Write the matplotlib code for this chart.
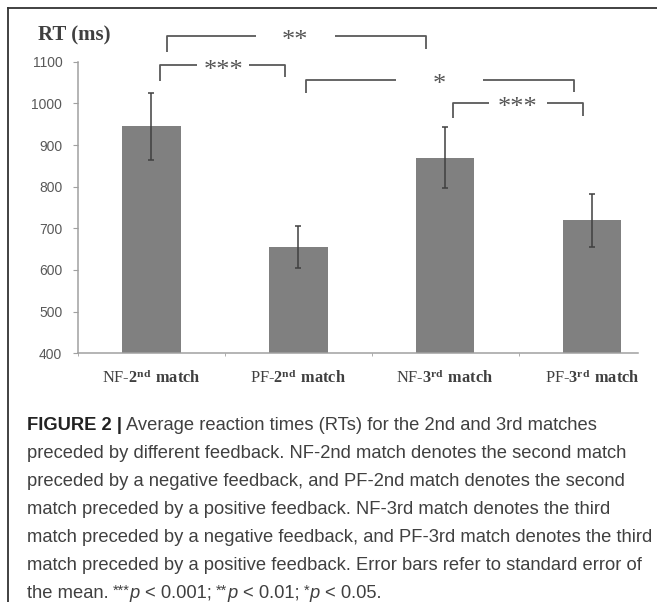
import numpy as np
import matplotlib
matplotlib.use("Agg")
from matplotlib import pyplot as plt

# data
conditions = ["NF-$\\mathbf{2^{nd}\\ match}$", "PF-$\\mathbf{2^{nd}\\ match}$",
              "NF-$\\mathbf{3^{rd}\\ match}$", "PF-$\\mathbf{3^{rd}\\ match}$"]
rt_mean = [945, 655, 870, 719]
rt_sem = [80, 51, 73, 64]
yticks = [400, 500, 600, 700, 800, 900, 1000, 1100]

# significance brackets: left bar pos, right bar pos, label
sig_pairs = [(0, 2, "**"), (0, 1, "***"), (1, 3, "*"), (2, 3, "***")]

caption_lines = [
    "Average reaction times (RTs) for the 2nd and 3rd matches",
    "preceded by different feedback. NF-2nd match denotes the second match",
    "preceded by a negative feedback, and PF-2nd match denotes the second",
    "match preceded by a positive feedback. NF-3rd match denotes the third",
    "match preceded by a negative feedback, and PF-3rd match denotes the third",
    "match preceded by a positive feedback. Error bars refer to standard error of",
]
# last line in pieces: (text, style)
last_line = [("the mean.", "n"), ("***", "s"), ("p", "i"), ("< 0.001;", "n"),
             ("**", "s"), ("p", "i"), ("< 0.01;", "n"),
             ("*", "s"), ("p", "i"), ("< 0.05.", "n")]

plt.rcParams['mathtext.fontset'] = 'custom'
plt.rcParams['mathtext.rm'] = 'Liberation Serif'
plt.rcParams['mathtext.bf'] = 'Liberation Serif:bold'

W, H = 657, 602
fig = plt.figure(figsize=(6.57, 6.02), dpi=100)

# background layer for frame + caption
bg = fig.add_axes([0, 0, 1, 1])
bg.set_xlim(0, W)
bg.set_ylim(H, 0)
bg.axis('off')
bg.plot([7.5, 7.5], [8, H], color='#333333', lw=1.3)
bg.plot([7.5, W], [8, 8], color='#333333', lw=1.3)

ax = fig.add_axes([77.7 / W, 1 - 353.3 / H, (638 - 77.7) / W, (353.3 - 61.7) / H])
x = np.arange(len(rt_mean))
ax.bar(x, rt_mean, width=0.4, color='#808080')
ax.errorbar(x, rt_mean, yerr=rt_sem, fmt='none', ecolor='#404040',
            elinewidth=1.1, capsize=2.5, capthick=1.1)

ax.set_xlim(-0.5, 3.313)
ax.set_ylim(400, 1100)
ax.set_yticks(yticks)
ax.set_yticklabels([str(v) for v in yticks], family='Liberation Sans',
                   fontsize=10, color='#595959')
ax.tick_params(axis='y', direction='out', length=3.6, color='#a0a0a0', pad=7.5)
ax.set_xticks(x)
ax.set_xticklabels(conditions, family='Liberation Serif', fontsize=11.8,
                   color='#404040')
ax.set_xticks([-0.5, 0.5, 1.5, 2.5], minor=True)
ax.tick_params(axis='x', which='major', length=0, pad=11)
ax.tick_params(axis='x', which='minor', direction='out', length=2.5,
               color='#a0a0a0')
for s in ['top', 'right']:
    ax.spines[s].set_visible(False)
for s in ['left', 'bottom']:
    ax.spines[s].set_color('#a0a0a0')
    ax.spines[s].set_linewidth(1.1)

# bracket geometry (data units)
brk_x = [(0.111, 1.871), (0.063, 0.912), (1.054, 2.878), (2.054, 2.937)]
brk_top = [1162, 1091, 1056, 1002]
brk_leg = [(1124, 1131), (1054, 1063), (1024, 1028), (966, 970)]
brk_gap = [(0.714, 1.249), (0.311, 0.668), (1.667, 2.259), (2.299, 2.694)]
for (i, j, lab), (xl, xr), top, (ll, lr), (g0, g1) in zip(
        sig_pairs, brk_x, brk_top, brk_leg, brk_gap):
    kw = dict(color='#595959', lw=1.3, clip_on=False, solid_capstyle='butt')
    ax.plot([xl, xl, g0], [ll, top, top], **kw)
    ax.plot([g1, xr, xr], [top, top, lr], **kw)
    ax.annotate(lab, xy=((g0 + g1) / 2, top), xytext=(0, -8),
                textcoords='offset points', ha='center', va='baseline',
                family='Liberation Serif', fontsize=19, color='#555555',
                annotation_clip=False)

fig.text(38 / W, 1 - 35 / H, "RT (ms)", family='Liberation Serif',
         weight='bold', fontsize=15, color='#404040', va='center', ha='left')

# caption
cfs = 13.2
ccol = '#404040'
cap_x = 27
cap_y = [430, 458, 486, 514, 542, 570, 598]
head = bg.text(cap_x, cap_y[0], "FIGURE 2 |", family='Liberation Sans',
               weight='bold', fontsize=cfs, color='#222222', va='baseline')
bg.annotate(caption_lines[0], xy=(1, 0), xycoords=head, xytext=(3, 0),
            textcoords='offset points', va='bottom', ha='left',
            family='Liberation Sans', fontsize=cfs, color=ccol)
for line, yy in zip(caption_lines[1:], cap_y[1:]):
    bg.text(cap_x, yy, line, family='Liberation Sans', fontsize=cfs,
            color=ccol, va='baseline')

# last caption line: place the pieces one after another
renderer = fig.canvas.get_renderer()
space = 4.0
xpos = cap_x
for k, (piece, st) in enumerate(last_line):
    style = dict(family='Liberation Sans', fontsize=cfs, color=ccol)
    dy = 0
    if st == 's':
        style['fontsize'] = cfs * 0.8
        dy = -3
    elif st == 'i':
        style['style'] = 'italic'
    if k > 0 and st != 'i':
        xpos += space
    t = bg.text(xpos, cap_y[-1] + dy, piece, va='baseline', ha='left', **style)
    xpos += t.get_window_extent(renderer).width
    if st == 'i':
        xpos += 1.5

fig.savefig('out.png', dpi=100)
